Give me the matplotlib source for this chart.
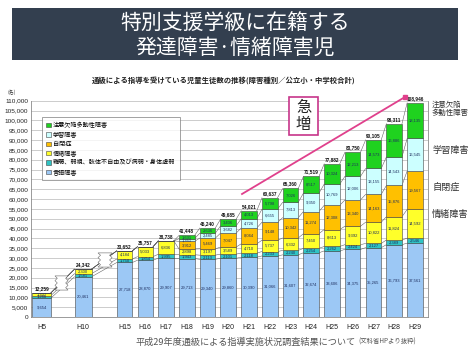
import matplotlib
matplotlib.use("Agg")
import matplotlib.pyplot as plt
from matplotlib.patches import Rectangle, Polygon, Patch
from matplotlib.lines import Line2D
import numpy as np

plt.rcParams['font.family'] = ['Noto Sans CJK JP', 'DejaVu Sans']

years = ['H5', 'H10', 'H15', 'H16', 'H17', 'H18', 'H19', 'H20', 'H21', 'H22',
         'H23', 'H24', 'H25', 'H26', 'H27', 'H28', 'H29']
gengo = [9654, 20461, 27718, 28870, 29907, 29713, 29340, 29860, 30390, 31066,
         31607, 32674, 33606, 34375, 35265, 36793, 37561]
nancho = [1268, 1581, 1750, 1854, 1995, 1943, 2113, 2101, 2118, 2233,
          2240, 2254, 2262, 2424, 2127, 2389, 2546]
jocho = [1337, 2300, 4184, 5033, 6836, 2898, 3197, 3589, 4710, 5737,
         6332, 7450, 8613, 9392, 10822, 11824, 14592]
jiheisho = [0, 0, 0, 0, 0, 3912, 5469, 7047, 8064, 9148,
            10342, 11274, 12308, 13340, 14163, 15876, 19567]
gakushu = [0, 0, 0, 0, 0, 1351, 2485, 3682, 4726, 6655,
           7813, 9350, 10769, 12006, 13155, 14543, 16545]
adhd = [0, 0, 0, 0, 0, 1631, 2636, 3406, 4013, 5798,
        7026, 8517, 10324, 12213, 14573, 16886, 18135]
totals = [12259, 24342, 33652, 35757, 38738, 41448, 45240, 49685, 54021, 60637,
          65360, 71519, 77882, 83750, 90105, 98311, 108946]

series_names = ['言語障害', '難聴、弱視、肢体不自由及び病弱・身体虚弱', '情緒障害',
                '自閉症', '学習障害', '注意欠陥多動性障害']
series_vals = [gengo, nancho, jocho, jiheisho, gakushu, adhd]
colors = ['#9cc8f5', '#2fc4c4', '#ffff2a', '#ffc000', '#ccffff', '#1fd21f']

W, H = 474, 355
fig = plt.figure(figsize=(W / 100, H / 100), dpi=100)
fig.patch.set_facecolor('white')

# positions
xpos = np.array([0, 2] + list(range(4, 19)), dtype=float)
widths = np.array([0.9, 0.82] + [0.75] * 15)

ax = fig.add_axes([31 / W, 1 - 317 / H, (428 - 31) / W, (317 - 100.7) / H])
ax.set_xlim(-0.51, 18.63)
ax.set_ylim(0, 110000)
ax.set_yticks(np.arange(0, 110001, 5000))
ax.set_yticklabels([f'{v:,}' for v in range(0, 110001, 5000)],
                   fontsize=4.6, family='Liberation Sans', color='#222222')
ax.set_xticks(xpos)
ax.set_xticklabels(years, fontsize=5, family='Liberation Sans', color='#222222')
ax.tick_params(axis='both', length=0, pad=2)
ax.tick_params(axis='x', pad=5)
ax.grid(axis='y', color='#c4c4c4', lw=0.6)
ax.set_axisbelow(True)
for s in ax.spines.values():
    s.set_color('#8a8a8a')
    s.set_linewidth(0.6)
ax.spines['top'].set_visible(False)

bottoms = np.zeros(len(years))
cums = [bottoms.copy()]
for vals, col in zip(series_vals, colors):
    v = np.array(vals, dtype=float)
    ax.bar(xpos, v, width=widths, bottom=bottoms, color=col,
           edgecolor='#444444', linewidth=0.4, zorder=3)
    for i in range(len(years)):
        if v[i] > 0:
            ax.text(xpos[i], bottoms[i] + v[i] / 2, f'{int(v[i]):,}',
                    ha='center', va='center', fontsize=3.0,
                    family='Liberation Sans', color='#1f2f5f', zorder=5)
    bottoms = bottoms + v
    cums.append(bottoms.copy())

# series lines
for c in cums[1:]:
    for i in range(len(years) - 1):
        ax.plot([xpos[i] + widths[i] / 2, xpos[i + 1] - widths[i + 1] / 2],
                [c[i], c[i + 1]], color='#555555', lw=0.35, zorder=2.5)

# totals
for i, t in enumerate(totals):
    ax.text(xpos[i], t + 1000, f'{t:,}', ha='center', va='bottom',
            fontsize=3.4, fontweight='bold', family='Liberation Sans',
            color='#111111', zorder=6)

# break marks
def break_mark(xc, y0, y1, w):
    n = 6
    ys = np.linspace(y0, y1, n + 1)
    amp = w * 0.18
    left = [(xc - w / 2 + (amp if k % 2 else 0), y) for k, y in enumerate(ys)]
    right = [(xc + w / 2 - (amp if k % 2 else 0), y) for k, y in enumerate(ys)][::-1]
    ax.add_patch(Polygon(left + right, closed=True, fc='white', ec='#666666',
                         lw=0.4, zorder=4))

break_mark(0.96, 13700, 20900, 0.63)
break_mark(3.06, 25400, 32600, 0.68)

# legend
handles = [Patch(facecolor=c, edgecolor='#444444', lw=0.4) for c in colors][::-1]
leg = ax.legend(handles, series_names[::-1], loc='upper left',
                bbox_to_anchor=(0.028, 0.925), fontsize=4.4, frameon=True,
                fancybox=False, edgecolor='#777777', labelspacing=0.22,
                handlelength=0.7, handleheight=0.7, handletextpad=0.4,
                borderpad=0.7, borderaxespad=0)
leg.get_frame().set_linewidth(0.6)
leg.set_zorder(1)

ax.text(-0.05, 1.03, '(名)', transform=ax.transAxes, fontsize=3.5,
        color='#333333', ha='center')

# title banner
fig.add_artist(Rectangle((12 / W, 1 - 60 / H), 446 / W, 52 / H,
                         transform=fig.transFigure, fc='#333f4f', ec='none'))
fig.text(235 / W, 1 - 23 / H, '特別支援学級に在籍する', ha='center', va='center',
         fontsize=15, color='white')
fig.text(235 / W, 1 - 48 / H, '発達障害·情緒障害児', ha='center', va='center',
         fontsize=15, color='white')

fig.text(224 / W, 1 - 80 / H,
         '通級による指導を受けている児童生徒数の推移(障害種別／公立小・中学校合計)',
         ha='center', va='center', fontsize=5.3, fontweight='bold', color='#222222')

# trend line
fig.add_artist(Line2D([242 / W, 405 / W], [1 - 194 / H, 1 - 97 / H],
                      transform=fig.transFigure, color='#e0408c', lw=1.3))
fig.add_artist(Line2D([405 / W], [1 - 97 / H], transform=fig.transFigure,
                      marker='s', ms=3, color='#e0408c'))

# 急増 box
fig.add_artist(Rectangle((289 / W, 1 - 135 / H), 29 / W, 38 / H,
                         transform=fig.transFigure, fc='white', ec='#c7358a', lw=1.2))
fig.text(303.5 / W, 1 - 107 / H, '急', ha='center', va='center', fontsize=11,
         color='#222222')
fig.text(303.5 / W, 1 - 124 / H, '増', ha='center', va='center', fontsize=11,
         color='#222222')

# right labels
fig.text(432 / W, 1 - 109 / H, '注意欠陥\n多動性障害', ha='left', va='center',
         fontsize=5.3, color='#333333', linespacing=1.1)
fig.text(432 / W, 1 - 151 / H, '学習障害', ha='left', va='center',
         fontsize=6.6, color='#333333')
fig.text(432 / W, 1 - 187 / H, '自閉症', ha='left', va='center',
         fontsize=6.6, color='#333333')
fig.text(432 / W, 1 - 215 / H, '情緒障害', ha='left', va='center',
         fontsize=6.6, color='#333333')

# source
fig.text(135 / W, 1 - 342 / H, '平成29年度通級による指導実施状況調査結果について',
         ha='left', va='center', fontsize=6.6, color='#555555')
fig.text(358 / W, 1 - 342 / H, '(文科省HPより抜粋)', ha='left', va='center',
         fontsize=4.6, color='#555555')

fig.savefig('out.png', dpi=100)
